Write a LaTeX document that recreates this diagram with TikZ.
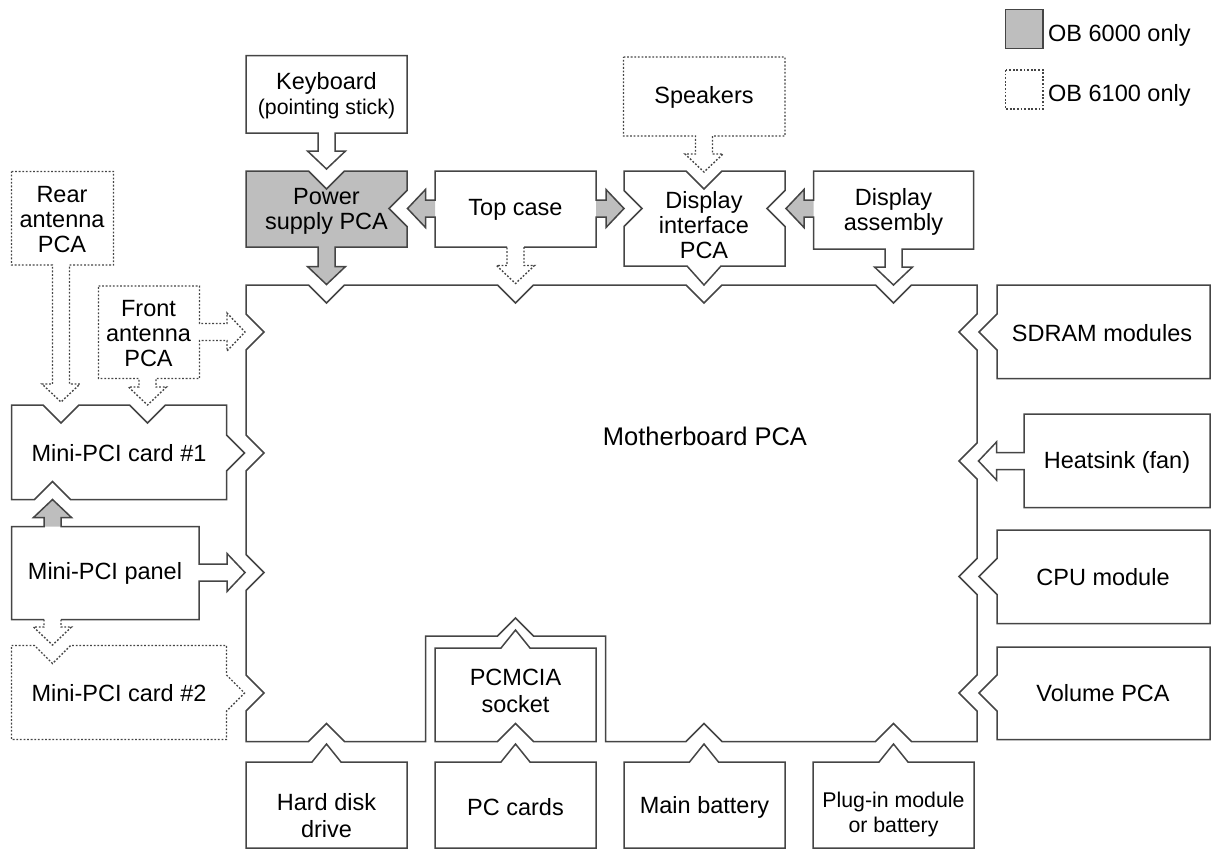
\documentclass[tikz,border=0pt]{standalone}
\usepackage{fontspec}
\setmainfont{Liberation Sans}
\usepackage{tikz}
\usetikzlibrary{calc}
\definecolor{linie}{HTML}{454545}
\definecolor{grau}{HTML}{BEBEBE}

% Kerben (nach innen) und Nasen (nach aussen), Umlauf im Uhrzeigersinn
\newcommand\kerbeRunter[2]{-- ({#1-18},#2) -- (#1,{#2+18}) -- ({#1+18},#2)}
\newcommand\kerbeHoch[2]{-- ({#1+18},#2) -- (#1,{#2-18}) -- ({#1-18},#2)}
\newcommand\kerbeLinks[2]{-- (#1,{#2-18}) -- ({#1-18},#2) -- (#1,{#2+18})}
\newcommand\kerbeRechts[2]{-- (#1,{#2+18}) -- ({#1+18},#2) -- (#1,{#2-18})}
\newcommand\naseHoch[2]{-- ({#1-14.5},#2) -- (#1,{#2-18}) -- ({#1+14.5},#2)}
\newcommand\naseRunter[2]{-- ({#1+17},#2) -- (#1,{#2+19}) -- ({#1-17},#2)}
\newcommand\naseRechts[2]{-- (#1,{#2-18}) -- ({#1+18},#2) -- (#1,{#2+18})}
\newcommand\naseLinks[2]{-- (#1,{#2+18}) -- ({#1-18},#2) -- (#1,{#2-18})}
% Blockpfeile: Mitte, Ansatz, Spitze
\newcommand\pfeilRunter[3]{-- ({#1+8.5},#2) -- ({#1+8.5},{#3-18}) -- ({#1+19},{#3-18}) -- (#1,#3) -- ({#1-19},{#3-18}) -- ({#1-8.5},{#3-18}) -- ({#1-8.5},#2)}
\newcommand\pfeilHoch[3]{-- ({#1-8.5},#2) -- ({#1-8.5},{#3+18}) -- ({#1-19},{#3+18}) -- (#1,#3) -- ({#1+19},{#3+18}) -- ({#1+8.5},{#3+18}) -- ({#1+8.5},#2)}
\newcommand\pfeilRechts[3]{-- (#2,{#1-8.5}) -- ({#3-18},{#1-8.5}) -- ({#3-18},{#1-19}) -- (#3,#1) -- ({#3-18},{#1+19}) -- ({#3-18},{#1+8.5}) -- (#2,{#1+8.5})}
\newcommand\pfeilLinks[3]{-- (#2,{#1+8.5}) -- ({#3+18},{#1+8.5}) -- ({#3+18},{#1+19}) -- (#3,#1) -- ({#3+18},{#1-19}) -- ({#3+18},{#1-8.5}) -- (#2,{#1-8.5})}

\begin{document}
\begin{tikzpicture}[x=1pt, y=-1pt,
    kasten/.style={draw=linie, line width=1.5pt, line join=miter},
    gepunktet/.style={draw=linie, line width=1.4pt, dash pattern=on 1.8pt off 1.8pt},
    txt/.style={font=\fontsize{23.5}{25}\selectfont, align=center, inner sep=0pt},
    klein/.style={font=\fontsize{21.3}{25}\selectfont, align=center, inner sep=0pt}]
  \useasboundingbox (0,0) rectangle (1211,855);

  % Legende
  \draw[kasten, fill=grau] (1005.5,9.5) rectangle (1043,48.5);
  \node[txt, anchor=base west] (leg1) at (1048,41.7) {OB 6000 only};
  \draw[gepunktet] (1005.5,70) rectangle (1043,109);
  \node[txt, anchor=base west] (leg2) at (1048,101.7) {OB 6100 only};

  % Obere Reihe
  \draw[kasten] (246,55.5) -- (407,55.5) -- (407,133) \pfeilRunter{326.5}{133}{169} -- (246,133) -- cycle;
  \draw[kasten, fill=grau] (246,171) \kerbeRunter{326.5}{171} -- (407,171) \kerbeLinks{407}{208.5}
    -- (407,247) \pfeilRunter{326.5}{247}{284.5} -- (246,247) -- cycle;
  \fill[grau] (435,208.5) \pfeilLinks{208.5}{435}{407.5} -- cycle;
  \fill[grau] (596,208.5) \pfeilRechts{208.5}{596}{624} -- cycle;
  \draw[kasten] (507,247) -- (435,247) \pfeilLinks{208.5}{435}{407.5} -- (435,171) -- (596,171)
    \pfeilRechts{208.5}{596}{624} -- (596,247) -- (524,247);
  \draw[gepunktet] (524,247) \pfeilRunter{515.5}{247}{283.5};
  \draw[gepunktet] (623.5,57) -- (785,57) -- (785,136) \pfeilRunter{704}{136}{172} -- (623.5,136) -- cycle;
  \draw[kasten] (624,171) \kerbeRunter{704}{171} -- (785,171) \kerbeLinks{785}{208.5}
    -- (785,266) \naseRunter{704}{266} -- (624,266) \kerbeRechts{624}{208.5} -- cycle;
  \fill[grau] (813.5,208.5) \pfeilLinks{208.5}{813.5}{786} -- cycle;
  \draw[kasten] (813.5,171) -- (973.5,171) -- (973.5,249) \pfeilRunter{893.5}{249}{285}
    -- (813.5,249) \pfeilLinks{208.5}{813.5}{786} -- cycle;

  \node[txt] (kbd) at (326.5,96) {Keyboard\\{\fontsize{21.3}{25}\selectfont (pointing stick)}};
  \node[txt] (psu) at (326.5,211.5) {Power\\supply PCA};
  \node[txt] (topcase) at (515.5,210) {Top case};
  \node[txt] (speakers) at (704,97) {Speakers};
  \node[txt] (dispif) at (704,225) {Display\\interface\\PCA};
  \node[txt] (dispasm) at (893.5,211.5) {Display\\assembly};

  % Linke Seite
  \draw[gepunktet] (11.5,171.5) -- (113.5,171.5) -- (113.5,265) \pfeilRunter{61}{265}{402} -- (11.5,265) -- cycle;
  \draw[gepunktet] (98.5,286) -- (199.5,286) \pfeilRechts{332}{199.5}{245}
    -- (199.5,378.5) \pfeilRunter{147.5}{378.5}{405} -- (98.5,378.5) -- cycle;
  \draw[kasten] (11.5,405) \kerbeRunter{61}{405} \kerbeRunter{147.5}{405} -- (226.5,405) \naseRechts{226.5}{453}
    -- (226.5,499.5) \kerbeHoch{52.5}{499.5} -- (11.5,499.5) -- cycle;
  \fill[grau] (52.5,526.5) \pfeilHoch{52.5}{526.5}{499.5} -- cycle;
  \draw[kasten] (44,619.5) -- (11.5,619.5) -- (11.5,526.5) \pfeilHoch{52.5}{526.5}{499.5} -- (199,526.5)
    \pfeilRechts{572.5}{199}{245} -- (199,619.5) -- (61,619.5);
  \draw[gepunktet] (61,619.5) \pfeilRunter{52.5}{619.5}{645};
  \draw[gepunktet] (11.5,645.5) \kerbeRunter{52.5}{645.5} -- (226.5,645.5) \naseRechts{226.5}{693}
    -- (226.5,739.5) -- (11.5,739.5) -- cycle;

  \node[txt] (rearant) at (62,220) {Rear\\antenna\\PCA};
  \node[txt] (frontant) at (148.5,334) {Front\\antenna\\PCA};
  \node[txt] (mpci1) at (119,453) {Mini-PCI card \#1};
  \node[txt] (mpcipanel) at (105,573) {Mini-PCI panel};
  \node[txt] (mpci2) at (119,693) {Mini-PCI card \#2};

  % Hauptplatine
  \draw[kasten] (246,285) \kerbeRunter{326.5}{285} \kerbeRunter{515.5}{285} \kerbeRunter{704}{285} \kerbeRunter{893.5}{285}
    -- (977,285) \kerbeLinks{977}{332} \kerbeLinks{977}{461} \kerbeLinks{977}{576.5} \kerbeLinks{977}{693}
    -- (977,741.5) \kerbeHoch{893.5}{741.5} \kerbeHoch{704}{741.5} -- (605.5,741.5) -- (605.5,636)
    \kerbeHoch{515.5}{636} -- (425.5,636) -- (425.5,741.5) \kerbeHoch{326.5}{741.5}
    -- (246,741.5) \kerbeRechts{246}{693} \kerbeRechts{246}{572.5} \kerbeRechts{246}{453} \kerbeRechts{246}{332} -- cycle;
  \node[txt, font=\fontsize{25.5}{28}\selectfont] (mobo) at (705,436) {Motherboard PCA};

  % Rechte Seite
  \draw[kasten] (997,285) -- (1210,285) -- (1210,378.5) -- (997,378.5) \naseLinks{997}{332} -- cycle;
  \draw[kasten] (1024,414) -- (1210,414) -- (1210,507.5) -- (1024,507.5) \pfeilLinks{461}{1024}{978.5} -- cycle;
  \draw[kasten] (997,530) -- (1210,530) -- (1210,623.5) -- (997,623.5) \naseLinks{997}{576.5} -- cycle;
  \draw[kasten] (997,647) -- (1210,647) -- (1210,739.5) -- (997,739.5) \naseLinks{997}{693} -- cycle;

  \node[txt] (sdram) at (1102,333) {SDRAM modules};
  \node[txt] (heatsink) at (1117,462) {Heatsink (fan)};
  \node[txt] (cpu) at (1103,577) {CPU module};
  \node[txt] (volume) at (1103,693) {Volume PCA};

  % Untere Reihe
  \draw[kasten] (435,648) \naseHoch{515.5}{648} -- (596,648) -- (596,741.5) \kerbeHoch{515.5}{741.5} -- (435,741.5) -- cycle;
  \draw[kasten] (246,762) \naseHoch{326.5}{762} -- (407,762) -- (407,848) -- (246,848) -- cycle;
  \draw[kasten] (435,762) \naseHoch{515.5}{762} -- (596,762) -- (596,848) -- (435,848) -- cycle;
  \draw[kasten] (624,762) \naseHoch{704}{762} -- (785,762) -- (785,848) -- (624,848) -- cycle;
  \draw[kasten] (813,762) \naseHoch{893.5}{762} -- (974,762) -- (974,848) -- (813,848) -- cycle;

  \node[txt] (pcmcia) at (515.5,691) {PCMCIA\\[2pt]socket};
  \node[txt] (hdd) at (326.5,815.5) {Hard disk\\[2pt]drive};
  \node[txt] (pccards) at (515.5,807) {PC cards};
  \node[txt] (battery) at (704.5,807) {Main battery};
  \node[klein] (plugin) at (893.5,814.5) {Plug-in module\\or battery};
\end{tikzpicture}
\end{document}
